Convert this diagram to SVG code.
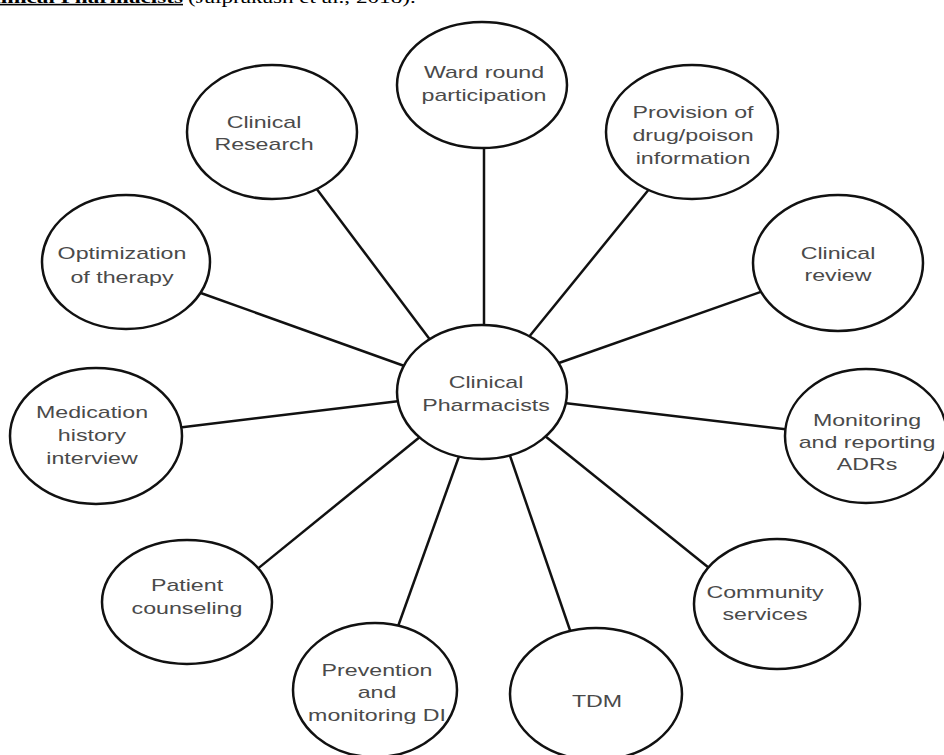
<svg xmlns="http://www.w3.org/2000/svg" width="944" height="755" viewBox="0 0 944 755">
<style>
.n{fill:#fff;stroke:#111;stroke-width:2.5}
.c line{stroke:#111;stroke-width:2.5}
.t{font-family:"Liberation Sans",Arial,sans-serif;font-size:16px;fill:#4a4a4a;text-anchor:middle}
.h{font-family:"Liberation Serif","Times New Roman",serif;font-size:16px;fill:#000}
</style>
<rect width="944" height="755" fill="#fff"/>
<g id="caption">
<text class="h" transform="translate(183,3) scale(1.45,1)" text-anchor="end" font-weight="bold" text-decoration="underline">Clinical Pharmacists</text>
<text class="h" transform="translate(188,3) scale(1.45,1)">(Jaiprakash et al., 2018).</text>
</g>
<g class="c" id="connectors">
<line x1="484" y1="140" x2="484" y2="335"/>
<line x1="316" y1="188" x2="434" y2="345"/>
<line x1="650" y1="188" x2="524" y2="343"/>
<line x1="198" y1="292" x2="410" y2="368"/>
<line x1="766" y1="290" x2="556" y2="364"/>
<line x1="176" y1="428" x2="408" y2="400"/>
<line x1="556" y1="402" x2="792" y2="430"/>
<line x1="250" y1="575" x2="426" y2="432"/>
<line x1="724" y1="580" x2="540" y2="432"/>
<line x1="396" y1="632" x2="462" y2="448"/>
<line x1="572" y1="636" x2="508" y2="450"/>
</g>
<g id="center"><ellipse class="n" cx="482" cy="392" rx="85" ry="67"/>
<text class="t" transform="translate(486,0) scale(1.45,1)"><tspan x="0" y="388">Clinical</tspan><tspan x="0" y="411">Pharmacists</tspan></text></g>
<g id="ward"><ellipse class="n" cx="482" cy="85" rx="85" ry="63"/>
<text class="t" transform="translate(484,0) scale(1.45,1)"><tspan x="0" y="78">Ward round</tspan><tspan x="0" y="101">participation</tspan></text></g>
<g id="research"><ellipse class="n" cx="272" cy="132" rx="85" ry="67"/>
<text class="t" transform="translate(264,0) scale(1.45,1)"><tspan x="0" y="128">Clinical</tspan><tspan x="0" y="150">Research</tspan></text></g>
<g id="provision"><ellipse class="n" cx="692" cy="132" rx="86" ry="67"/>
<text class="t" transform="translate(693,0) scale(1.45,1)"><tspan x="0" y="118">Provision of</tspan><tspan x="0" y="141">drug/poison</tspan><tspan x="0" y="164">information</tspan></text></g>
<g id="optimization"><ellipse class="n" cx="126" cy="262" rx="84" ry="67"/>
<text class="t" transform="translate(122,0) scale(1.45,1)"><tspan x="0" y="259">Optimization</tspan><tspan x="0" y="283">of therapy</tspan></text></g>
<g id="review"><ellipse class="n" cx="838" cy="263" rx="85" ry="68"/>
<text class="t" transform="translate(838,0) scale(1.45,1)"><tspan x="0" y="259">Clinical</tspan><tspan x="0" y="281">review</tspan></text></g>
<g id="medication"><ellipse class="n" cx="96" cy="436" rx="86" ry="68"/>
<text class="t" transform="translate(92,0) scale(1.45,1)"><tspan x="0" y="418">Medication</tspan><tspan x="0" y="441">history</tspan><tspan x="0" y="464">interview</tspan></text></g>
<g id="adrs"><ellipse class="n" cx="866" cy="436" rx="81" ry="67"/>
<text class="t" transform="translate(867,0) scale(1.45,1)"><tspan x="0" y="426">Monitoring</tspan><tspan x="0" y="448">and reporting</tspan><tspan x="0" y="470">ADRs</tspan></text></g>
<g id="counseling"><ellipse class="n" cx="187" cy="602" rx="85" ry="62"/>
<text class="t" transform="translate(187,0) scale(1.45,1)"><tspan x="0" y="591">Patient</tspan><tspan x="0" y="614">counseling</tspan></text></g>
<g id="community"><ellipse class="n" cx="777" cy="604" rx="83" ry="65"/>
<text class="t" transform="translate(765,0) scale(1.45,1)"><tspan x="0" y="598">Community</tspan><tspan x="0" y="620">services</tspan></text></g>
<g id="prevention"><ellipse class="n" cx="375" cy="690" rx="82" ry="67"/>
<text class="t" transform="translate(377,0) scale(1.45,1)"><tspan x="0" y="676">Prevention</tspan><tspan x="0" y="698">and</tspan><tspan x="0" y="721">monitoring DI</tspan></text></g>
<g id="tdm"><ellipse class="n" cx="596" cy="694" rx="86" ry="66"/>
<text class="t" transform="translate(597,0) scale(1.45,1)"><tspan x="0" y="707">TDM</tspan></text></g>
</svg>
